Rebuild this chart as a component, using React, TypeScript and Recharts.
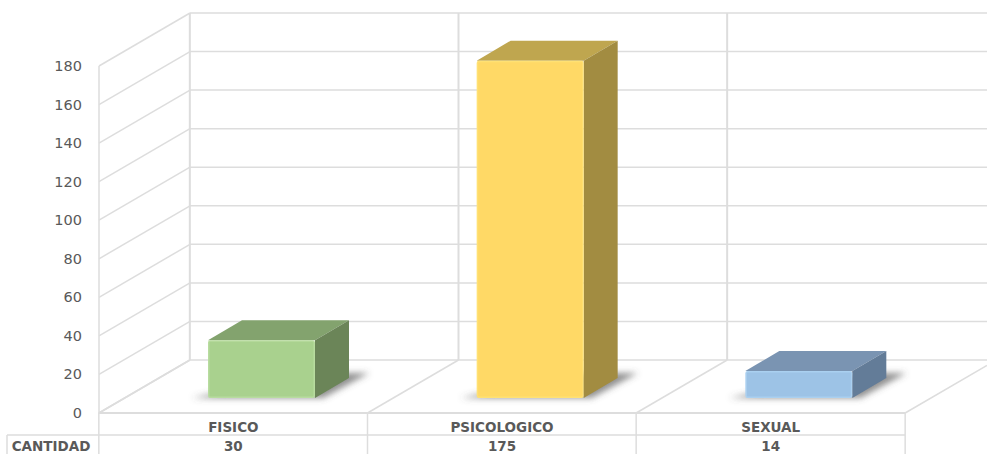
import React from 'react';
import { BarChart, Bar, XAxis, YAxis } from 'recharts';

const categories = ['FISICO', 'PSICOLOGICO', 'SEXUAL'];
const cantidad = [30, 175, 14];
const yTicks = [0, 20, 40, 60, 80, 100, 120, 140, 160, 180];

const fronts = ['#a9d18e', '#ffd966', '#9dc3e6'];
const tops = ['#83a36e', '#bfa64f', '#7a94b2'];
const sides = ['#6b8558', '#a28c41', '#637c98'];
const edges = ['#b8dc9f', '#ffe173', '#aad0f0'];

const data = categories.map((name, i) => ({ name, cantidad: cantidad[i] }));

const GRID = '#dddddd';
const TEXT = '#595959';
const FONT = '"DejaVu Sans", sans-serif';
const DEPTH_X = 91;
const DEPTH_Y = 53;
const BAND = 269;

function YTick({ x, y, payload }: any) {
  const left = x + 8;
  return (
    <g>
      <line x1={left} y1={y} x2={left + DEPTH_X} y2={y - DEPTH_Y} stroke={GRID} strokeWidth={1.5} />
      <line x1={left + DEPTH_X} y1={y - DEPTH_Y} x2={987} y2={y - DEPTH_Y} stroke={GRID} strokeWidth={1.5} />
      <text x={x - 9} y={y + 5} textAnchor="end" fontFamily={FONT} fontSize={14.5} fill={TEXT}>
        {payload.value}
      </text>
    </g>
  );
}

function XTick({ x, payload }: any) {
  const i = categories.indexOf(payload.value);
  const left = x - BAND / 2;
  const right = x + BAND / 2;
  const floor = 413;
  return (
    <g>
      <line x1={left} y1={floor} x2={left + DEPTH_X} y2={floor - DEPTH_Y} stroke={GRID} strokeWidth={1.5} />
      <line x1={left + DEPTH_X} y1={floor - DEPTH_Y} x2={left + DEPTH_X} y2={13} stroke={GRID} strokeWidth={2} />
      <line x1={left} y1={floor} x2={left} y2={454} stroke={GRID} strokeWidth={1.5} />
      <line x1={left} y1={floor} x2={right} y2={floor} stroke={GRID} strokeWidth={2} />
      <line x1={left} y1={435} x2={right} y2={435} stroke={GRID} strokeWidth={1.5} />
      {i === categories.length - 1 && (
        <g>
          <line x1={right} y1={floor} x2={right} y2={454} stroke={GRID} strokeWidth={1.5} />
          <line x1={right} y1={floor} x2={987} y2={floor - (987 - right) * (DEPTH_Y / DEPTH_X)} stroke={GRID} strokeWidth={1.5} />
        </g>
      )}
      {i === 0 && (
        <g>
          <line x1={7} y1={435} x2={left} y2={435} stroke={GRID} strokeWidth={1.5} />
          <line x1={7} y1={435} x2={7} y2={454} stroke={GRID} strokeWidth={1.5} />
          <text x={51} y={451} textAnchor="middle" fontFamily={FONT} fontSize={13.5} fontWeight={700} fill={TEXT}>
            CANTIDAD
          </text>
        </g>
      )}
      <text x={x} y={432} textAnchor="middle" fontFamily={FONT} fontSize={13.5} fontWeight={700} fill={TEXT}>
        {payload.value}
      </text>
      <text x={x} y={451} textAnchor="middle" fontFamily={FONT} fontSize={13.5} fontWeight={700} fill={TEXT}>
        {cantidad[i]}
      </text>
    </g>
  );
}

// 3d box: the bar sits a bit back on the floor, so shift it from the front plane
function Box3D({ x, y, width, height, index }: any) {
  const bx = x + 28;
  const by = y - 15;
  const base = by + height;
  const dx = 34;
  const dy = 20;
  const r = bx + width;
  return (
    <g>
      <polygon
        points={`${bx - 16},${base} ${r + 8},${base} ${r + dx + 20},${base - dy - 5} ${r},${base - dy - 5}`}
        fill="#555555"
        fillOpacity={0.65}
        filter="url(#boxShadow)"
      />
      <polygon points={`${bx},${by} ${bx + dx},${by - dy} ${r + dx},${by - dy} ${r},${by}`} fill={tops[index]} />
      <polygon points={`${r},${by} ${r + dx},${by - dy} ${r + dx},${base - dy} ${r},${base}`} fill={sides[index]} />
      <rect x={bx + 0.75} y={by + 0.75} width={width - 1.5} height={height - 1.5} rx={1.5} fill={fronts[index]} stroke={edges[index]} strokeWidth={1.5} />
    </g>
  );
}

const layerStyle: React.CSSProperties = { position: 'absolute', left: 0, top: 0 };

export default function App() {
  return (
    <div style={{ position: 'absolute', left: 0, top: 0, width: 987, height: 454, background: '#fff' }}>
      {/* ticks paint above bars, so walls and table are their own chart underneath */}
      <div style={layerStyle}>
        <BarChart width={987} height={454} data={data} margin={{ top: 66, right: 82, bottom: 0, left: 0 }}>
          <XAxis dataKey="name" axisLine={false} tickLine={false} height={41} interval={0} tick={<XTick />} />
          <YAxis
            width={99}
            domain={[0, 180]}
            ticks={yTicks}
            interval={0}
            axisLine={{ stroke: GRID, strokeWidth: 1.5 }}
            tickLine={false}
            tick={<YTick />}
          />
          <Bar dataKey="cantidad" fill="none" isAnimationActive={false} />
        </BarChart>
      </div>
      <div style={layerStyle}>
        <BarChart
          width={987}
          height={454}
          data={data}
          margin={{ top: 66, right: 82, bottom: 41, left: 99 }}
          barCategoryGap={0}
        >
          <defs>
            <filter id="boxShadow" x="-30%" y="-30%" width="160%" height="160%">
              <feGaussianBlur stdDeviation="3" />
            </filter>
          </defs>
          <XAxis dataKey="name" hide />
          <YAxis domain={[0, 180]} hide />
          <Bar dataKey="cantidad" barSize={107} isAnimationActive={false} shape={<Box3D />} />
        </BarChart>
      </div>
    </div>
  );
}
